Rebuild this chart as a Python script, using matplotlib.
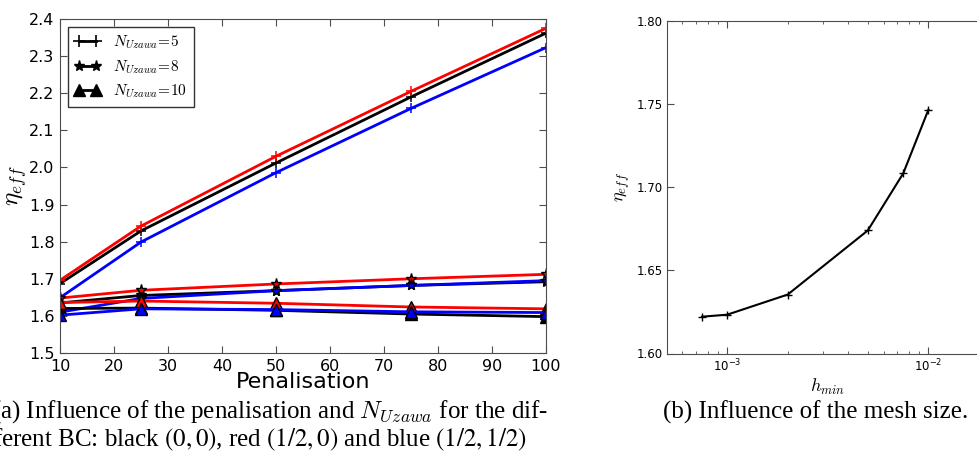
import matplotlib
matplotlib.use("Agg")
import matplotlib.pyplot as plt
import numpy as np

plt.rcParams['mathtext.fontset'] = 'cm'
plt.rcParams['font.family'] = 'DejaVu Sans'

# (a) penalisation study
penal = [10, 25, 50, 75, 100]

# N_Uzawa = 5
eta5_black = [1.687, 1.829, 2.012, 2.190, 2.362]
eta5_red = [1.696, 1.842, 2.030, 2.205, 2.375]
eta5_blue = [1.649, 1.799, 1.986, 2.159, 2.323]
# N_Uzawa = 8
eta8_black = [1.635, 1.655, 1.668, 1.682, 1.692]
eta8_red = [1.648, 1.669, 1.686, 1.700, 1.712]
eta8_blue = [1.610, 1.647, 1.668, 1.682, 1.695]
# N_Uzawa = 10
eta10_black = [1.620, 1.621, 1.615, 1.605, 1.598]
eta10_red = [1.636, 1.640, 1.634, 1.624, 1.619]
eta10_blue = [1.602, 1.619, 1.617, 1.611, 1.609]

# (b) mesh size study
hmin = [7.5e-4, 1e-3, 2e-3, 5e-3, 7.5e-3, 1e-2]
eta_h = [1.6221, 1.6233, 1.6354, 1.6739, 1.7082, 1.7464]

W, H = 978, 470
fig = plt.figure(figsize=(W / 100, H / 100), dpi=100)

def box(x0, y0, x1, y1):
    # pixel box (top-left origin) -> figure fraction
    return [x0 / W, 1 - y1 / H, (x1 - x0) / W, (y1 - y0) / H]

spine_col = '0.3'

# ---------------- left panel
ax1 = fig.add_axes(box(60, 19, 546, 353))
series = [
    (eta5_black, 'k', '+'), (eta5_red, 'r', '+'), (eta5_blue, 'b', '+'),
    (eta8_black, 'k', '*'), (eta8_red, 'r', '*'), (eta8_blue, 'b', '*'),
    (eta10_black, 'k', '^'), (eta10_red, 'r', '^'), (eta10_blue, 'b', '^'),
]
for vals, col, mk in series:
    if mk == '+':
        ax1.plot(penal, vals, color=col, lw=2, marker='+', ms=7, mew=1.1)
    else:
        ax1.plot(penal, vals, color=col, lw=2, marker=mk, ms=8,
                 mfc=col, mec='k', mew=1)

h5, = ax1.plot([], [], color='k', lw=2, marker='+', ms=8, mew=1.2)
h8, = ax1.plot([], [], color='k', lw=2, marker='*', ms=8, mec='k')
h10, = ax1.plot([], [], color='k', lw=2, marker='^', ms=8, mec='k')
leg = ax1.legend([h5, h8, h10],
                 [r'$N_{Uzawa}\!=\!5$', r'$N_{Uzawa}\!=\!8$', r'$N_{Uzawa}\!=\!10$'],
                 loc='upper left', numpoints=2, fontsize=11, fancybox=False,
                 handlelength=1.7, labelspacing=0.45, borderaxespad=0.5,
                 handletextpad=0.8, borderpad=0.45)
leg.get_frame().set_edgecolor('k')
leg.get_frame().set_linewidth(1)

ax1.set_xlim(10, 100)
ax1.set_ylim(1.5, 2.4)
ax1.set_xticks(np.arange(10, 101, 10))
ax1.set_yticks(np.arange(1.5, 2.41, 0.1))
ax1.set_yticklabels(['%.1f' % v for v in np.arange(1.5, 2.41, 0.1)])
ax1.tick_params(direction='in', top=True, right=True, labelsize=11.5,
                length=5, pad=4, color=spine_col)
ax1.set_xlabel('Penalisation', fontsize=16, labelpad=-1)
ax1.set_ylabel(r'$\eta_{eff}$', fontsize=18, labelpad=0)
for s in ax1.spines.values():
    s.set_color(spine_col)

# ---------------- right panel (cropped on the right)
ax2 = fig.add_axes(box(666.5, 20.5, 989, 353.5))
ax2.plot(hmin, eta_h, color='k', lw=1.5, marker='+', ms=6, mew=1)
ax2.set_xscale('log')
ax2.set_xlim(5e-4, 2e-2)
ax2.set_ylim(1.60, 1.80)
ax2.set_yticks([1.60, 1.65, 1.70, 1.75, 1.80])
ax2.set_yticklabels(['1.60', '1.65', '1.70', '1.75', '1.80'])
ax2.tick_params(which='both', direction='in', top=True, right=True,
                labelsize=8.5, color=spine_col)
ax2.tick_params(which='major', length=5, pad=3)
ax2.tick_params(which='minor', length=2.5)
ax2.set_xlabel(r'$h_{min}$', fontsize=13, labelpad=2)
ax2.set_ylabel(r'$\eta_{eff}$', fontsize=13, labelpad=3)
for s in ax2.spines.values():
    s.set_color(spine_col)

# ---------------- captions
cap = dict(family='Liberation Serif', fontsize=18, va='center', ha='left')
fig.text(-8 / W, 1 - 412 / H,
         r'(a) Influence of the penalisation and $N_{Uzawa}$ for the dif-', **cap)
fig.text(-7 / W, 1 - 440 / H,
         r'ferent BC: black $(0,0)$, red $(1/2,0)$ and blue $(1/2,1/2)$',
         math_fontfamily='stix', **cap)
fig.text(663 / W, 1 - 412 / H, '(b) Influence of the mesh size.', **cap)

fig.savefig('out.png', dpi=100)
